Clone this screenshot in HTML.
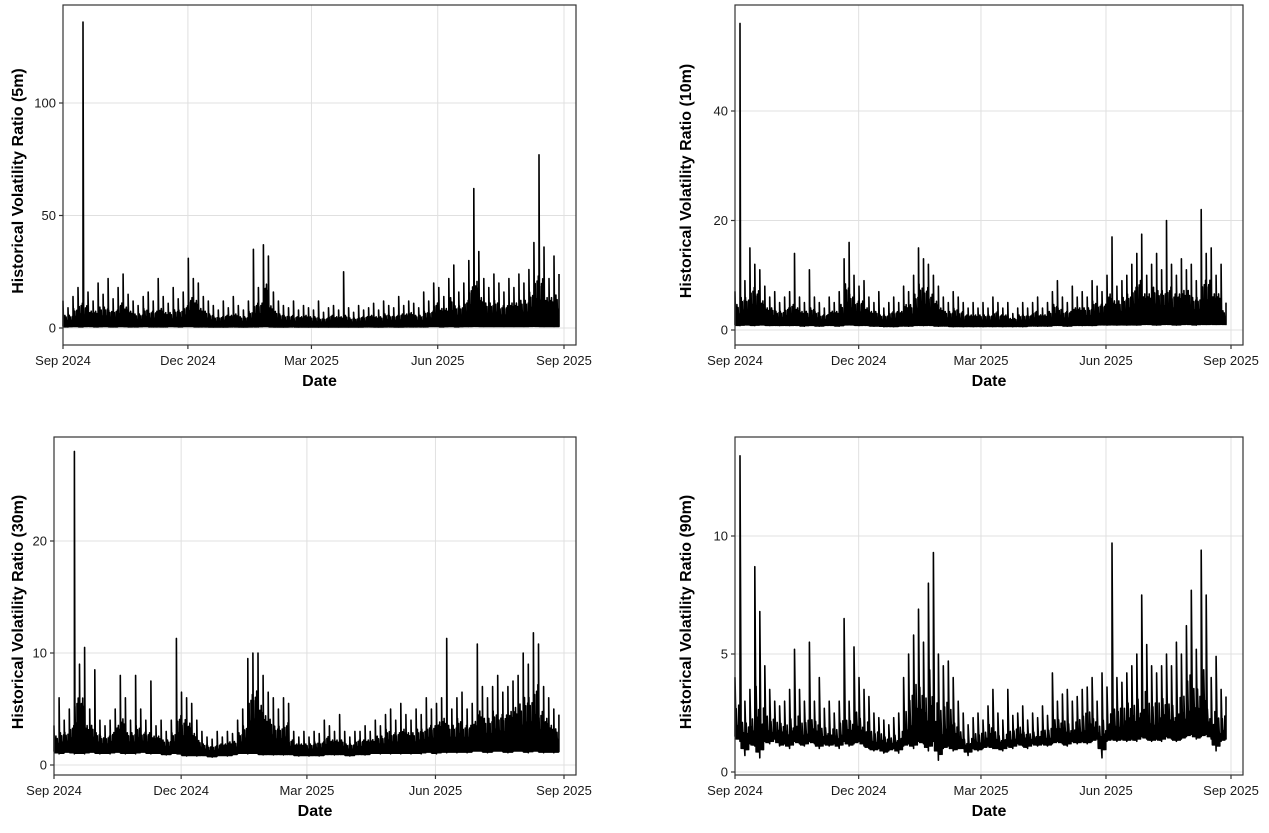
<!DOCTYPE html>
<html><head><meta charset="utf-8"><style>
html,body{margin:0;padding:0;background:#fff;}
svg text{font-family:"Liberation Sans",sans-serif;}
</style></head><body>
<svg id="chart" width="1269" height="828" xmlns="http://www.w3.org/2000/svg"></svg>
<script>
const xTickLabels = ["Sep 2024","Dec 2024","Mar 2025","Jun 2025","Sep 2025"];
const xTickDays = [0,91,181,273,365];
const stepDays = 3.65;

const p1High = [12,9,14,18,136,16,12,20,15,22,13,18,24,15,12,10,14,16,12,22,14,11,18,13,16,31,22,20,14,12,10,8,12,9,14,10,8,12,35,18,37,32,16,12,10,9,12,8,10,9,8,12,7,9,10,8,25,9,7,10,8,9,11,8,12,10,9,14,10,12,11,9,16,12,20,18,14,22,28,16,20,30,62,34,22,18,24,20,16,22,18,24,20,26,38,77,36,22,32,24];
const p1Low = [0.6,0.5,0.7,0.6,0.5,0.8,0.6,0.5,0.7,0.6,0.5,0.6,0.7,0.5,0.6,0.5,0.7,0.6,0.5,0.6,0.5,0.6,0.7,0.5,0.6,0.7,0.6,0.5,0.6,0.5,0.4,0.5,0.4,0.5,0.6,0.5,0.4,0.5,0.6,0.5,0.7,0.6,0.5,0.5,0.4,0.5,0.6,0.4,0.5,0.4,0.5,0.4,0.5,0.4,0.5,0.4,0.5,0.4,0.5,0.4,0.5,0.6,0.5,0.4,0.5,0.6,0.5,0.4,0.5,0.6,0.5,0.6,0.5,0.6,0.7,0.6,0.5,0.7,0.6,0.5,0.7,0.6,0.8,0.7,0.6,0.7,0.6,0.7,0.6,0.7,0.6,0.7,0.6,0.7,0.8,0.7,0.6,0.7,0.6,0.7];

const p2High = [7,56,9,15,12,11,8,6,7,5,6,7,14,6,5,11,6,5,4,6,5,7,13,16,10,8,9,6,5,7,4,5,6,5,8,7,10,15,13,12,10,8,6,5,7,6,5,4,5,4,5,4,6,5,4,5,3,4,5,4,5,6,4,5,7,9,6,5,8,6,7,6,9,8,7,10,17,8,9,10,12,14,17.5,10,12,14,11,20,12,10,13,11,12,9,22,14,15,10,12,5];
const p2Low = [0.9,0.8,1,0.9,0.8,1,0.9,0.8,0.9,0.8,0.9,0.8,0.9,0.8,0.7,0.9,0.8,0.7,0.8,0.9,0.8,0.7,0.9,1,0.9,0.8,0.9,0.8,0.7,0.8,0.6,0.7,0.6,0.7,0.8,0.7,0.8,0.9,0.8,0.9,0.8,0.7,0.8,0.7,0.6,0.7,0.6,0.7,0.6,0.7,0.6,0.7,0.6,0.7,0.6,0.7,0.6,0.7,0.6,0.7,0.8,0.7,0.8,0.7,0.8,0.9,0.8,0.7,0.8,0.9,0.8,0.9,0.8,0.9,1,0.9,1,0.9,1,0.9,1,0.9,1,1.1,1,0.9,1,1.1,1,0.9,1,1.1,1,0.9,1.1,1,1.1,1,1.1,1];

const p3High = [3.5,6,4,5,28,9,10.5,5,8.5,4,3.5,4,5,8,6,4,8,5,4,7.5,3.5,4,3,4,11.3,6.5,6,5.5,4,3,2.5,2.3,3,2.5,3,2.8,4,5,9.5,10,10,8,6.5,6,5,6,5.5,3,2.5,3,2.5,3,2.8,4,3.5,3,4.5,3,2.5,3,3,3.5,3,4,3.5,4.5,5,4,5.5,4.5,4,5,4.5,6,5,5.5,6,11.3,5,6,6.5,5,5.5,10.8,7,6,7,8,6.5,7,7.5,8,10,9,11.8,10.8,7,6,5,4.5];
const p3Low = [1.2,1,1.1,1.2,1,1.1,1,1.2,1.1,1,1.1,1,1.2,1.1,1,1.1,1,1.2,1.1,1,1.1,1,0.9,1,1.1,0.9,0.8,0.9,0.8,0.9,0.8,0.7,0.8,0.9,0.8,0.9,1,1.1,1,1.1,1,0.9,1,0.9,1,0.9,1,0.9,0.8,0.9,0.8,0.9,0.8,0.9,1,0.9,1,0.9,0.8,0.9,1,0.9,1,1.1,1,1.1,1,1.1,1,1.1,1,1.1,1,1.2,1.1,1,1.2,1.1,1.2,1.1,1.2,1.1,1.2,1.3,1.2,1.1,1.2,1.3,1.2,1.1,1.2,1.3,1.2,1.1,1.3,1.2,1.1,1.2,1.1,1.2];

const p4High = [4,13.4,3,3.5,8.7,6.8,4.5,3.5,3,2.8,3,3.5,5.2,3.5,3,5.5,3,4,2.7,3,2.5,3,6.5,3,5.3,4,3.5,3.2,2.5,2.3,2.2,2,2.3,2.5,4,5,5.8,6.9,5.5,8,9.3,5,4.5,4.7,4,3,2.5,2,2.3,2.5,2.2,2.8,3.5,2.5,2.2,3.5,2.4,2.5,2.8,2.2,2.5,2.3,2.8,2.4,4.2,3,3.3,3.5,3,3.2,3.5,3.6,4,3,4.2,3.6,9.7,4,3.8,4.2,4.5,5,7.5,5.4,4.5,4.2,4.5,5,4.5,5.5,5,6.2,7.7,5.2,9.4,7.5,4,4.9,3.5,3.2];
const p4Low = [1.5,1.3,0.7,1.2,1.1,0.6,1.3,1.2,1.4,1.1,1.2,1,1.3,1.2,1.1,1.3,1.2,1,1.2,1.1,1.2,1,1.3,1.1,1.2,1.3,1.1,1,0.9,1,0.8,0.9,1,0.8,1.1,1.2,1,1.3,1.2,0.9,1.3,0.5,1,1.1,0.9,1,1,0.7,1,0.9,1,1.1,1,1,0.9,1.1,1,1.2,1.1,1,1.2,1.1,1.2,1.1,1.2,1.3,1.2,1.1,1.3,1.2,1.3,1.2,1.3,1.4,0.6,1.3,1.4,1.3,1.4,1.3,1.4,1.3,1.5,1.4,1.3,1.4,1.3,1.5,1.4,1.3,1.4,1.5,1.6,1.4,1.5,1.6,1.4,0.9,1.3,1.4];

const panels = [
 {name:"5m", left:63,right:576,top:5,bottom:345, x0:63,x1:564, y0px:328, yPerUnit:2.25, yTicks:[0,50,100], titleX:17, high:p1High, low:p1Low, sub:7, band:0.6},
 {name:"10m", left:735,right:1243,top:5,bottom:345, x0:735,x1:1231, y0px:330, yPerUnit:5.475, yTicks:[0,20,40], titleX:685, high:p2High, low:p2Low, sub:7, band:0.62},
 {name:"30m", left:54,right:576,top:437,bottom:775, x0:54,x1:564, y0px:765, yPerUnit:11.2, yTicks:[0,10,20], titleX:17, high:p3High, low:p3Low, sub:7, band:0.62},
 {name:"90m", left:735,right:1243,top:437,bottom:775, x0:735,x1:1231, y0px:772, yPerUnit:23.6, yTicks:[0,5,10], titleX:685, high:p4High, low:p4Low, sub:3, band:0.55}
];
const subFactors = [0.55,0.9,0.4,1.0,0.6,0.85,0.45];

const svg = document.getElementById('chart');
const NS = "http://www.w3.org/2000/svg";
function mk(tag, attrs, parent){
  const e = document.createElementNS(NS, tag);
  for (const k in attrs) e.setAttribute(k, attrs[k]);
  parent.appendChild(e);
  return e;
}

panels.forEach(p => {
  const g = mk('g', {}, svg);
  
  
  const xs = d => p.x0 + (d/365)*(p.x1 - p.x0);
  const ys = v => p.y0px - v*p.yPerUnit;
  xTickDays.forEach(d => {
    const l = mk('line', {x1:xs(d),x2:xs(d),y1:p.top,y2:p.bottom,stroke:'#e0e0e0','stroke-width':1}, g);
    
    
  });
  p.yTicks.forEach(v => {
    const l = mk('line', {x1:p.left,x2:p.right,y1:ys(v),y2:ys(v),stroke:'#e0e0e0','stroke-width':1}, g);
    
    
  });
  let d = '';
  const n = p.high.length;
  p.high.forEach((h, i) => {
    const x = xs(i*stepDays);
    d += (i===0 ? 'M' : 'L') + x.toFixed(1) + ',' + ys(p.low[i]).toFixed(1) + 'L' + x.toFixed(1) + ',' + ys(h).toFixed(1);
    if (i < n-1) {
      const hn = Math.min(h, p.high[i+1]);
      const lowN = (p.low[i] + p.low[i+1]) / 2;
      for (let k = 1; k <= p.sub; k++) {
        const xk = xs((i + k/(p.sub+1))*stepDays);
        const top = lowN + (hn - lowN) * p.band * subFactors[(k + i) % subFactors.length];
        d += 'L' + xk.toFixed(1) + ',' + ys(lowN).toFixed(1) + 'L' + xk.toFixed(1) + ',' + ys(top).toFixed(1);
      }
    }
  });
  const path = mk('path', {d:d, fill:'none', stroke:'#000','stroke-width':1.6,'stroke-linejoin':'round'}, g);
  
  
  const fr = mk('rect', {x:p.left,y:p.top,width:p.right-p.left,height:p.bottom-p.top,fill:'none',stroke:'#333','stroke-width':1.2}, g);
  
  
  xTickDays.forEach((dd, i) => {
    mk('line', {x1:xs(dd),x2:xs(dd),y1:p.bottom,y2:p.bottom+4,stroke:'#333','stroke-width':1.2}, g);
    const t = mk('text', {x:xs(dd),y:p.bottom+20,'text-anchor':'middle','font-size':13,fill:'#1a1a1a'}, g);
    t.textContent = xTickLabels[i];
    
    
  });
  p.yTicks.forEach(v => {
    mk('line', {x1:p.left-4,x2:p.left,y1:ys(v),y2:ys(v),stroke:'#333','stroke-width':1.2}, g);
    const t = mk('text', {x:p.left-7,y:ys(v)+4.5,'text-anchor':'end','font-size':13,fill:'#1a1a1a'}, g);
    t.textContent = v;
    
    
  });
  const xt = mk('text', {x:(p.left+p.right)/2,y:p.bottom+41,'text-anchor':'middle','font-size':16,'font-weight':'bold',fill:'#000'}, g);
  xt.textContent = 'Date';
  
  
  const cy = (p.top+p.bottom)/2;
  const yt = mk('text', {x:p.titleX,y:cy,'text-anchor':'middle','font-size':16,'font-weight':'bold',fill:'#000',transform:'rotate(-90 '+(p.titleX+6)+' '+cy+')'}, g);
  yt.textContent = 'Historical Volatility Ratio (' + p.name + ')';
  
  
});
</script>
</body></html>
